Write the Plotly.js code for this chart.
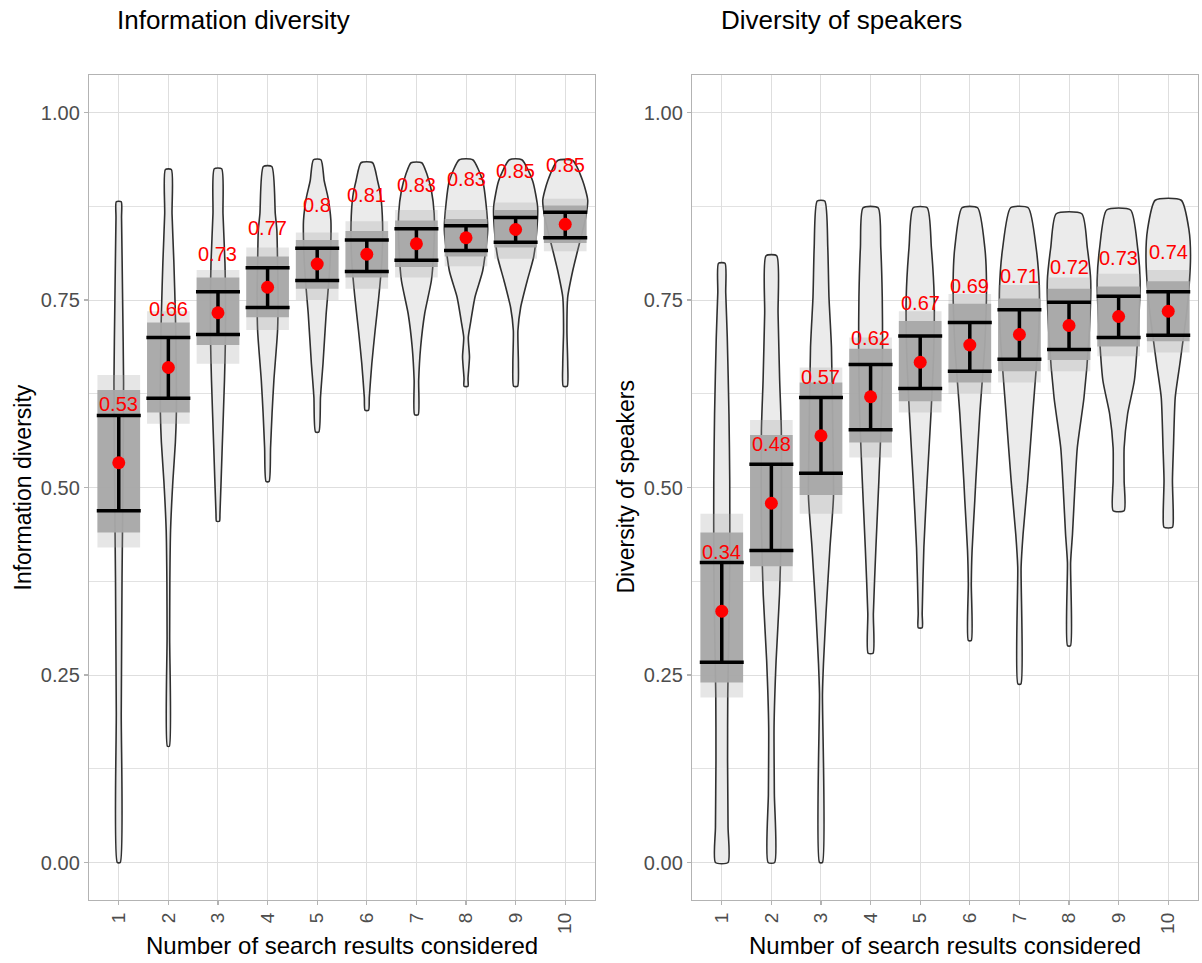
<!DOCTYPE html>
<html>
<head>
<meta charset="utf-8">
<script src="https://cdn.plot.ly/plotly-3.0.1.min.js"></script>
<style>html,body{margin:0;padding:0;background:#fff;}#chart{width:1202px;height:963px;}</style>
</head>
<body>
<div id="chart"></div>
<script>
// ---------- categories ----------
const cats = [1, 2, 3, 4, 5, 6, 7, 8, 9, 10];
const tickLabels = ['1', '2', '3', '4', '5', '6', '7', '8', '9', '10'];

// ---------- Information diversity (left panel) ----------
const infoMean  = [0.533, 0.660, 0.733, 0.767, 0.798, 0.811, 0.825, 0.833, 0.844, 0.851];
const infoLo    = [0.469, 0.619, 0.704, 0.740, 0.776, 0.788, 0.803, 0.816, 0.827, 0.833];
const infoHi    = [0.596, 0.700, 0.761, 0.793, 0.819, 0.830, 0.845, 0.849, 0.860, 0.867];
const infoLabel = ['0.53', '0.66', '0.73', '0.77', '0.8', '0.81', '0.83', '0.83', '0.85', '0.85'];
const infoCoreLo   = [0.440, 0.600, 0.690, 0.727, 0.765, 0.780, 0.794, 0.808, 0.820, 0.826];
const infoCoreHi   = [0.630, 0.720, 0.780, 0.808, 0.830, 0.842, 0.856, 0.858, 0.870, 0.876];
const infoFringeLo = [0.420, 0.585, 0.665, 0.710, 0.750, 0.765, 0.780, 0.795, 0.805, 0.815];
const infoFringeHi = [0.650, 0.735, 0.790, 0.820, 0.840, 0.855, 0.870, 0.870, 0.880, 0.885];
const infoViolinY = [
  [0, 0.2, 0.38, 0.51, 0.64, 0.75, 0.86, 0.881],
  [0.155, 0.30, 0.376, 0.443, 0.509, 0.56, 0.599, 0.643, 0.70, 0.732, 0.80, 0.865, 0.924],
  [0.455, 0.465, 0.553, 0.643, 0.70, 0.76, 0.799, 0.865, 0.925],
  [0.508, 0.553, 0.60, 0.643, 0.709, 0.76, 0.80, 0.843, 0.865, 0.928],
  [0.574, 0.62, 0.643, 0.665, 0.732, 0.78, 0.82, 0.856, 0.887, 0.909, 0.937],
  [0.603, 0.62, 0.665, 0.709, 0.754, 0.80, 0.852, 0.888, 0.909, 0.933],
  [0.597, 0.643, 0.687, 0.732, 0.776, 0.82, 0.865, 0.896, 0.918, 0.933],
  [0.635, 0.645, 0.674, 0.70, 0.718, 0.754, 0.789, 0.843, 0.879, 0.909, 0.937],
  [0.635, 0.665, 0.709, 0.74, 0.776, 0.807, 0.84, 0.874, 0.909, 0.937],
  [0.635, 0.665, 0.709, 0.754, 0.789, 0.812, 0.84, 0.86, 0.883, 0.909, 0.936]
];
const infoViolinW = [
  [0.030, 0.050, 0.066, 0.085, 0.097, 0.078, 0.056, 0.050],
  [0.020, 0.026, 0.030, 0.044, 0.091, 0.141, 0.161, 0.161, 0.151, 0.141, 0.111, 0.074, 0.060],
  [0.030, 0.040, 0.085, 0.131, 0.151, 0.151, 0.141, 0.101, 0.074],
  [0.030, 0.060, 0.091, 0.127, 0.201, 0.211, 0.201, 0.187, 0.155, 0.085],
  [0.034, 0.066, 0.091, 0.117, 0.181, 0.241, 0.272, 0.276, 0.217, 0.141, 0.076],
  [0.036, 0.050, 0.101, 0.167, 0.241, 0.302, 0.318, 0.282, 0.217, 0.117],
  [0.036, 0.046, 0.085, 0.167, 0.302, 0.352, 0.358, 0.302, 0.211, 0.107],
  [0.040, 0.040, 0.070, 0.046, 0.087, 0.181, 0.336, 0.437, 0.402, 0.336, 0.135],
  [0.040, 0.056, 0.046, 0.101, 0.235, 0.362, 0.423, 0.443, 0.342, 0.125],
  [0.040, 0.050, 0.034, 0.050, 0.151, 0.235, 0.342, 0.412, 0.453, 0.352, 0.151]
];

// ---------- Diversity of speakers (right panel) ----------
const spkMean  = [0.335, 0.479, 0.569, 0.621, 0.667, 0.690, 0.704, 0.716, 0.728, 0.735];
const spkLo    = [0.267, 0.416, 0.519, 0.577, 0.632, 0.655, 0.671, 0.684, 0.700, 0.703];
const spkHi    = [0.400, 0.531, 0.620, 0.664, 0.702, 0.720, 0.737, 0.747, 0.755, 0.761];
const spkLabel = ['0.34', '0.48', '0.57', '0.62', '0.67', '0.69', '0.71', '0.72', '0.73', '0.74'];
const spkCoreLo   = [0.240, 0.395, 0.490, 0.560, 0.615, 0.640, 0.655, 0.670, 0.688, 0.695];
const spkCoreHi   = [0.440, 0.570, 0.640, 0.685, 0.722, 0.745, 0.752, 0.765, 0.768, 0.775];
const spkFringeLo = [0.220, 0.375, 0.465, 0.540, 0.600, 0.625, 0.640, 0.655, 0.675, 0.680];
const spkFringeHi = [0.465, 0.590, 0.660, 0.700, 0.735, 0.758, 0.770, 0.780, 0.785, 0.790];
const spkViolinY = [
  [0, 0.047, 0.136, 0.225, 0.30, 0.40, 0.509, 0.598, 0.70, 0.76, 0.799],
  [0, 0.092, 0.18, 0.269, 0.358, 0.45, 0.576, 0.643, 0.732, 0.809],
  [0, 0.225, 0.265, 0.332, 0.42, 0.487, 0.56, 0.687, 0.754, 0.820, 0.882],
  [0.279, 0.332, 0.42, 0.509, 0.60, 0.687, 0.754, 0.820, 0.873],
  [0.313, 0.332, 0.42, 0.509, 0.598, 0.68, 0.754, 0.820, 0.873],
  [0.296, 0.372, 0.416, 0.483, 0.509, 0.598, 0.69, 0.776, 0.820, 0.873],
  [0.238, 0.394, 0.438, 0.509, 0.598, 0.70, 0.763, 0.820, 0.873],
  [0.289, 0.40, 0.438, 0.465, 0.553, 0.620, 0.70, 0.776, 0.820, 0.865],
  [0.469, 0.509, 0.553, 0.598, 0.643, 0.72, 0.776, 0.820, 0.870],
  [0.447, 0.465, 0.509, 0.553, 0.620, 0.665, 0.74, 0.807, 0.843, 0.883]
];
const spkViolinW = [
  [0.127, 0.127, 0.117, 0.121, 0.141, 0.161, 0.161, 0.145, 0.111, 0.080, 0.066],
  [0.066, 0.060, 0.054, 0.095, 0.165, 0.201, 0.201, 0.167, 0.135, 0.107],
  [0.030, 0.030, 0.050, 0.101, 0.181, 0.252, 0.241, 0.211, 0.161, 0.137, 0.076],
  [0.050, 0.056, 0.107, 0.167, 0.221, 0.241, 0.235, 0.205, 0.151],
  [0.040, 0.040, 0.074, 0.141, 0.217, 0.272, 0.282, 0.225, 0.141],
  [0.030, 0.030, 0.046, 0.101, 0.121, 0.201, 0.302, 0.336, 0.302, 0.157],
  [0.030, 0.034, 0.074, 0.167, 0.268, 0.382, 0.402, 0.336, 0.177],
  [0.030, 0.032, 0.070, 0.091, 0.167, 0.302, 0.402, 0.437, 0.368, 0.258],
  [0.111, 0.111, 0.111, 0.181, 0.318, 0.402, 0.433, 0.382, 0.241],
  [0.085, 0.101, 0.085, 0.105, 0.141, 0.235, 0.382, 0.449, 0.419, 0.262]
];

// ---------- builders ----------
const FONT = 'Liberation Sans, Arial, sans-serif';
const CLOUD_HALF = 0.43;

function violinTrace(vy, vw, xa, ya) {
  const xs = [], ys = [];
  cats.forEach((c, i) => {
    const y = vy[i], w = vw[i];
    for (let j = 0; j < y.length; j++) { xs.push(c + w[j]); ys.push(y[j]); }
    for (let j = y.length - 1; j >= 0; j--) { xs.push(c - w[j]); ys.push(y[j]); }
    xs.push(c + w[0]); ys.push(y[0]);
    xs.push(null); ys.push(null);
  });
  return {
    type: 'scatter', mode: 'lines', x: xs, y: ys, xaxis: xa, yaxis: ya,
    fill: 'toself', fillcolor: '#ebebeb',
    line: {color: '#303030', width: 1.6, shape: 'spline', smoothing: 0.6},
    hoverinfo: 'skip'
  };
}

function rectTrace(lo, hi, xa, ya, fillcolor) {
  const xs = [], ys = [];
  cats.forEach((c, i) => {
    xs.push(c - CLOUD_HALF, c + CLOUD_HALF, c + CLOUD_HALF, c - CLOUD_HALF, c - CLOUD_HALF, null);
    ys.push(lo[i], lo[i], hi[i], hi[i], lo[i], null);
  });
  return {
    type: 'scatter', mode: 'lines', x: xs, y: ys, xaxis: xa, yaxis: ya,
    fill: 'toself', fillcolor: fillcolor, line: {width: 0, color: 'rgba(0,0,0,0)'}, hoverinfo: 'skip'
  };
}

function meanTrace(mean, lo, hi, xa, ya) {
  return {
    type: 'scatter', mode: 'markers', x: cats, y: mean, xaxis: xa, yaxis: ya,
    marker: {color: '#ff0000', size: 13, line: {width: 0}},
    error_y: {
      type: 'data', symmetric: false,
      array: hi.map((h, i) => h - mean[i]),
      arrayminus: lo.map((l, i) => mean[i] - l),
      color: '#000000', thickness: 3.5, width: 22
    },
    hoverinfo: 'skip'
  };
}

function panel(p, xa, ya) {
  return [
    violinTrace(p.vy, p.vw, xa, ya),
    rectTrace(p.fLo, p.fHi, xa, ya, 'rgba(165,165,165,0.28)'),
    rectTrace(p.cLo, p.cHi, xa, ya, 'rgba(168,168,168,0.95)'),
    meanTrace(p.mean, p.lo, p.hi, xa, ya)
  ];
}

const traces = [].concat(
  panel({vy: infoViolinY, vw: infoViolinW, fLo: infoFringeLo, fHi: infoFringeHi,
         cLo: infoCoreLo, cHi: infoCoreHi, mean: infoMean, lo: infoLo, hi: infoHi}, 'x', 'y'),
  panel({vy: spkViolinY, vw: spkViolinW, fLo: spkFringeLo, fHi: spkFringeHi,
         cLo: spkCoreLo, cHi: spkCoreHi, mean: spkMean, lo: spkLo, hi: spkHi}, 'x2', 'y2')
);

// ---------- layout ----------
const W = 1202, H = 963;
const px = v => v / W, py = v => (H - v) / H;

function xAxis(domain, anchor) {
  return {
    domain: domain, anchor: anchor, range: [0.4, 10.6],
    tickmode: 'array', tickvals: cats, ticktext: tickLabels, tickangle: -90,
    showgrid: true, gridcolor: '#dedede', gridwidth: 1,
    zeroline: false, showline: true, mirror: true, linecolor: '#b3b3b3', linewidth: 1.2,
    ticks: 'outside', ticklen: 4, tickcolor: '#b3b3b3', tickwidth: 1.2,
    tickfont: {family: FONT, size: 19, color: '#4d4d4d'}, fixedrange: true
  };
}
function yAxis(anchor) {
  return {
    domain: [py(900), py(75)], anchor: anchor, range: [-0.05, 1.05],
    tickmode: 'linear', tick0: 0, dtick: 0.25, tickformat: '.2f',
    showgrid: true, gridcolor: '#dedede', gridwidth: 1,
    minor: {tick0: 0, dtick: 0.125, showgrid: true, gridcolor: '#e2e2e2', gridwidth: 1, ticks: ''},
    zeroline: false, showline: true, mirror: true, linecolor: '#b3b3b3', linewidth: 1.2,
    ticks: 'outside', ticklen: 4, tickcolor: '#b3b3b3', tickwidth: 1.2,
    tickfont: {family: FONT, size: 20, color: '#4d4d4d'}, fixedrange: true
  };
}

function labelAnns(mean, labels, xa, ya) {
  return cats.map((c, i) => ({
    x: c, y: mean[i], xref: xa, yref: ya, text: labels[i], showarrow: false,
    yshift: 59, font: {family: FONT, size: 20, color: '#ff0000'}
  }));
}

const annotations = [].concat(
  labelAnns(infoMean, infoLabel, 'x', 'y'),
  labelAnns(spkMean, spkLabel, 'x2', 'y2'),
  [
    {text: 'Information diversity', xref: 'paper', yref: 'paper', x: px(115), y: py(20),
     xanchor: 'left', yanchor: 'middle', showarrow: false, font: {family: FONT, size: 26, color: '#000'}},
    {text: 'Diversity of speakers', xref: 'paper', yref: 'paper', x: px(719), y: py(20),
     xanchor: 'left', yanchor: 'middle', showarrow: false, font: {family: FONT, size: 26, color: '#000'}},
    {text: 'Information diversity', xref: 'paper', yref: 'paper', x: px(22), y: py(487.5),
     textangle: -90, xanchor: 'center', yanchor: 'middle', showarrow: false,
     font: {family: FONT, size: 23, color: '#000'}},
    {text: 'Diversity of speakers', xref: 'paper', yref: 'paper', x: px(625), y: py(487.5),
     textangle: -90, xanchor: 'center', yanchor: 'middle', showarrow: false,
     font: {family: FONT, size: 23, color: '#000'}},
    {text: 'Number of search results considered', xref: 'paper', yref: 'paper', x: px(342), y: py(945),
     xanchor: 'center', yanchor: 'middle', showarrow: false, font: {family: FONT, size: 24, color: '#000'}},
    {text: 'Number of search results considered', xref: 'paper', yref: 'paper', x: px(945), y: py(945),
     xanchor: 'center', yanchor: 'middle', showarrow: false, font: {family: FONT, size: 24, color: '#000'}}
  ]
);

const layout = {
  width: W, height: H, margin: {l: 0, r: 0, t: 0, b: 0},
  paper_bgcolor: '#ffffff', plot_bgcolor: '#ffffff',
  showlegend: false, hovermode: false,
  xaxis: xAxis([px(89), px(595)], 'y'),
  yaxis: yAxis('x'),
  xaxis2: xAxis([px(692), px(1198)], 'y2'),
  yaxis2: yAxis('x2'),
  annotations: annotations
};

Plotly.newPlot('chart', traces, layout, {displayModeBar: false, staticPlot: true});
</script>
</body>
</html>
